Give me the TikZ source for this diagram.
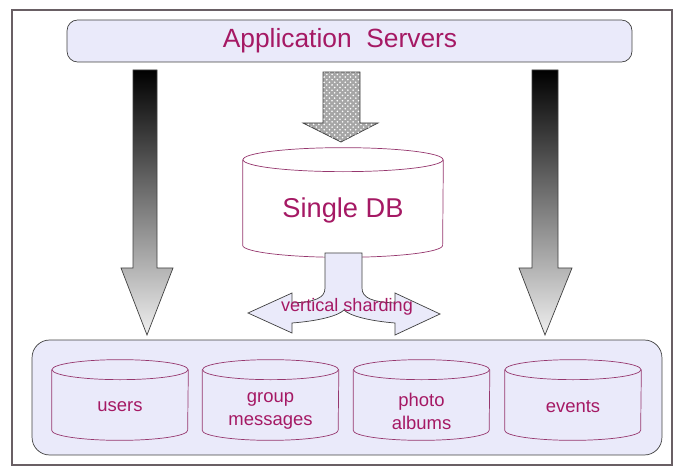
\documentclass[tikz,border=0pt]{standalone}
\usepackage{fontspec}
\setmainfont{Liberation Sans}
\usepackage{xcolor}
\usepackage{tikz}
\usetikzlibrary{patterns}

\definecolor{lav}{RGB}{234,234,250}
\definecolor{wine}{RGB}{165,25,100}
\definecolor{cylline}{RGB}{150,55,110}
\definecolor{framec}{RGB}{105,95,100}

% outline of a database drum round a body node: node, x radius, y radius, fill
\newcommand{\drum}[4]{%
  \draw[cylline, fill=#4] (#1.north west) -- (#1.south west)
    arc[start angle=180, end angle=360, x radius=#2, y radius=#3] -- (#1.north east);
  \draw[cylline, fill=#4] (#1.north) ellipse [x radius=#2, y radius=#3];}

\begin{document}
\begin{tikzpicture}[x=0.02cm,y=-0.02cm,
    dbbody/.style={inner sep=0pt, minimum width=2.72cm, minimum height=1.2cm},
    dbtext/.style={text=wine, align=center, font=\fontsize{10.5}{13}\selectfont},
    fadearrow/.style={draw=darkgray, top color=black, bottom color=gray!12}]
  \useasboundingbox (0,0) rectangle (685,475);
  \draw[framec, line width=0.8pt] (12,10) rectangle (672,465);

  % top and bottom boxes
  \node[draw=darkgray, fill=lav, rounded corners=6pt, minimum width=11.3cm,
    minimum height=0.84cm] (app) at (349.5,41) {};
  \node[text=wine, font=\fontsize{15}{18}\selectfont] (applabel) at (340,41) {Application\ \ Servers};
  \node[draw=darkgray, fill=lav, rounded corners=10pt, minimum width=12.6cm,
    minimum height=2.3cm] (shards) at (347,397.5) {};

  % the single database
  \node[inner sep=0pt, minimum width=4cm, minimum height=1.7cm] (single) at (343,202.5) {};
  \drum{single}{2cm}{0.24cm}{white}
  \node[text=wine, font=\fontsize{15.5}{18}\selectfont] (singlelabel) at (343,210) {Single DB};

  % the shards
  \node[dbbody] (users) at (120,400) {};
  \node[dbbody] (groups) at (270.5,400) {};
  \node[dbbody] (photos) at (421.5,400) {};
  \node[dbbody] (events) at (573,400) {};
  \drum{users}{1.36cm}{0.2cm}{lav}
  \drum{groups}{1.36cm}{0.2cm}{lav}
  \drum{photos}{1.36cm}{0.2cm}{lav}
  \drum{events}{1.36cm}{0.2cm}{lav}
  \node[dbtext] (userslabel) at (120,407) {users};
  \node[dbtext] (groupslabel) at (270.5,411) {group\\messages};
  \node[dbtext] (photoslabel) at (421.5,411) {photo\\albums};
  \node[dbtext] (eventslabel) at (573,407) {events};

  % arrows
  \shade[fadearrow] (133,70) -- (157,70) -- (157,268) -- (173,268) -- (147,335)
    -- (121,268) -- (133,268) -- cycle;
  \shade[fadearrow] (532,70) -- (558,70) -- (558,268) -- (572,268) -- (545,335)
    -- (519,268) -- (532,268) -- cycle;
  \path[draw=darkgray, fill=gray!70, postaction={pattern=crosshatch dots, pattern color=white}]
    (323,72) -- (360,72) -- (360,123) -- (378,123) -- (341,142) -- (303,123)
    -- (323,123) -- cycle;
  \draw[darkgray, fill=lav] (325,253) -- (325,288) .. controls (325,298) and (315,302) .. (292,303)
    -- (292,293) -- (248,313) -- (292,333) -- (292,323)
    .. controls (318,321) and (338,316) .. (344,310)
    .. controls (350,316) and (370,321) .. (395,323)
    -- (395,335) -- (440,314) -- (395,293) -- (395,303)
    .. controls (372,302) and (362,298) .. (362,288) -- (362,253) -- cycle;
  \node[text=wine, font=\fontsize{10.3}{12}\selectfont] (shardlabel) at (347,307) {vertical sharding};
\end{tikzpicture}
\end{document}
